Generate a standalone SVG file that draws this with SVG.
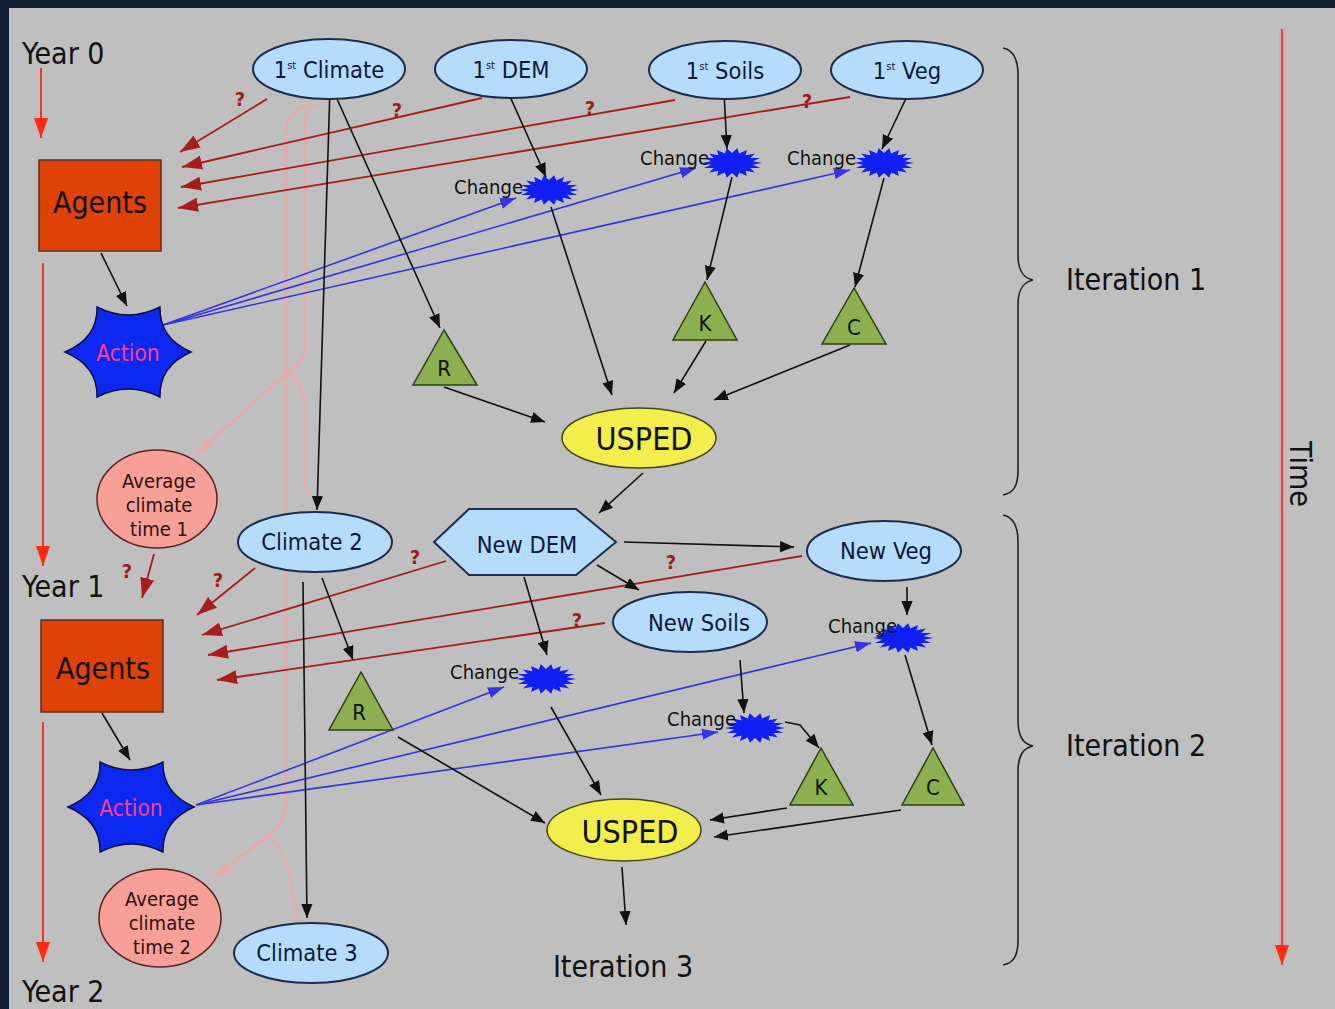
<svg xmlns="http://www.w3.org/2000/svg" width="1335" height="1009" viewBox="0 0 1335 1009">
<style>
text{font-family:"DejaVu Sans Condensed","DejaVu Sans",sans-serif;font-stretch:condensed;}
.ell{fill:#b6dcfb;stroke:#1c2c4c;stroke-width:2}
.elt{font-size:23.5px;fill:#0c1838;text-anchor:middle}
.sup{font-size:11px}
.big{font-size:30px;fill:#111}
.agents{fill:#e04206;stroke:#5a3020;stroke-width:1.5}
.action{fill:#0a28f0;stroke:#101040;stroke-width:1.5}
.actt{font-size:22.5px;fill:#ff3c8c;text-anchor:middle}
.usped{fill:#f2ee4c;stroke:#44441a;stroke-width:1.5}
.uspt{font-size:32px;fill:#111;text-anchor:middle}
.avg{fill:#f8a098;stroke:#5a2222;stroke-width:1.5}
.avgt{font-size:20px;fill:#2a1010;text-anchor:middle}
.tri{fill:#8cb050;stroke:#2a4010;stroke-width:1.5}
.trit{font-size:22px;fill:#111;text-anchor:middle}
.burst{fill:#1020f5}
.cht{font-size:20px;fill:#111;text-anchor:end}
.blk{stroke:#111;stroke-width:1.6;fill:none;marker-end:url(#ab)}
.red{stroke:#a81c1c;stroke-width:1.8;fill:none;marker-end:url(#ar)}
.blu{stroke:#3434e6;stroke-width:1.6;fill:none;marker-end:url(#au)}
.pnk{stroke:#f2a4a4;stroke-width:2.5;fill:none;opacity:0.85}
.q{font-size:20px;font-weight:bold;fill:#a01c1c;text-anchor:middle}
.tl{stroke:#f03a20;stroke-width:2;fill:none;marker-end:url(#at)}
.brace{stroke:#222;stroke-width:1.6;fill:none}
</style>
<defs>
<marker id="ab" viewBox="0 0 10 10" refX="10" refY="5" markerWidth="14" markerHeight="14" markerUnits="userSpaceOnUse" orient="auto"><path d="M0,1 L10,5 L0,9 z" fill="#111"/></marker>
<marker id="ar" viewBox="0 0 10 10" refX="10" refY="5" markerWidth="20" markerHeight="20" markerUnits="userSpaceOnUse" orient="auto"><path d="M0,1.5 L10,5 L0,8.5 z" fill="#a81c1c"/></marker>
<marker id="au" viewBox="0 0 10 10" refX="10" refY="5" markerWidth="16" markerHeight="16" markerUnits="userSpaceOnUse" orient="auto"><path d="M0,1.5 L10,5 L0,8.5 z" fill="#3434e6"/></marker>
<marker id="ap" viewBox="0 0 10 10" refX="10" refY="5" markerWidth="16" markerHeight="16" markerUnits="userSpaceOnUse" orient="auto"><path d="M0,1.5 L10,5 L0,8.5 z" fill="#f2a4a4"/></marker>
<marker id="at" viewBox="0 0 10 10" refX="10" refY="5" markerWidth="20" markerHeight="20" markerUnits="userSpaceOnUse" orient="auto"><path d="M0,1.5 L10,5 L0,8.5 z" fill="#ff2a10"/></marker>
<path id="burst" d="M30,0 L20.7,1.7 L28.2,5.1 L18.2,5 L23,9.6 L13.5,7.7 L15,13 L7.2,9.4 L5.2,14.8 L0,10 L-5.2,14.8 L-7.2,9.4 L-15,13 L-13.5,7.7 L-23,9.6 L-18.2,5 L-28.2,5.1 L-20.7,1.7 L-30,0 L-20.7,-1.7 L-28.2,-5.1 L-18.2,-5 L-23,-9.6 L-13.5,-7.7 L-15,-13 L-7.2,-9.4 L-5.2,-14.8 L0,-10 L5.2,-14.8 L7.2,-9.4 L15,-13 L13.5,-7.7 L23,-9.6 L18.2,-5 L28.2,-5.1 L20.7,-1.7 Z"/>
<path id="star6" d="M-63,0 Q-30,-14 -31,-45 Q0,-29 32,-45 Q31,-14 63,0 Q31,14 32,45 Q0,29 -31,45 Q-30,14 -63,0 Z"/>
</defs>

<rect x="0" y="0" width="1335" height="1009" fill="#0f2035"/>
<rect x="9" y="8" width="1326" height="1001" fill="#bfbfbf"/>

<!-- pink background curves -->
<g id="pink-links">
<path class="pnk" d="M318,104 C306,108 305,116 305,128 L305,345 C305,360 296,366 288,372 L197,453" marker-end="url(#ap)"/>
<path class="pnk" d="M288,372 C300,380 305,395 305,412 L305,480 C305,492 310,496 318,498"/>
<path class="pnk" d="M310,104 C292,110 286,118 286,132 L286,800 C286,818 280,828 268,835 L215,877" marker-end="url(#ap)"/>
<path class="pnk" d="M268,835 C284,850 290,868 292,890 L297,921"/>
</g>

<!-- timeline -->
<g id="timeline">
<path class="tl" d="M41,68 L41,138"/>
<path class="tl" d="M43,263 L43,566"/>
<path class="tl" d="M43,722 L43,962"/>
<text class="big" x="22" y="64">Year 0</text>
<text class="big" x="22" y="597">Year 1</text>
<text class="big" x="22" y="1002">Year 2</text>
<path d="M1282,29 L1282,950" stroke="#eaa0a0" stroke-width="6" opacity="0.6"/>
<path d="M1282,29 L1282,965" stroke="#e04848" stroke-width="2" marker-end="url(#at)"/>
<text x="0" y="0" font-size="30" fill="#111" text-anchor="middle" transform="translate(1290,474) rotate(90)">Time</text>
<path class="brace" d="M1003,48 C1013,50 1018,58 1018,75 L1018,255 C1018,272 1024,278 1033,280 C1024,282 1018,288 1018,305 L1018,470 C1018,487 1013,493 1003,495"/>
<path class="brace" d="M1003,515 C1013,517 1018,525 1018,542 L1018,720 C1018,738 1024,744 1033,746 C1024,748 1018,754 1018,772 L1018,940 C1018,957 1013,963 1003,965"/>
<text class="big" x="1066" y="290" font-size="28">Iteration 1</text>
<text class="big" x="1066" y="756" font-size="28">Iteration 2</text>
<text class="big" x="623" y="977" font-size="28" text-anchor="middle">Iteration 3</text>
</g>

<!-- connectors -->
<g id="connectors">
<!-- red question links iteration 1 -->
<path class="red" d="M267,99 L180,152"/>
<path class="red" d="M482,98 L182,167"/>
<path class="red" d="M675,100 L181,187"/>
<path class="red" d="M850,97 L178,208"/>
<!-- red question links iteration 2 -->
<path class="red" d="M154,554 L142,598"/>
<path class="red" d="M255,568 L197,615"/>
<path class="red" d="M446,561 L202,635"/>
<path class="red" d="M802,556 L208,655"/>
<path class="red" d="M605,623 L217,680"/>
<!-- blue action links -->
<path class="blu" d="M163,325 L516,198"/>
<path class="blu" d="M163,325 L696,168"/>
<path class="blu" d="M163,325 L850,170"/>
<path class="blu" d="M196,805 L504,687"/>
<path class="blu" d="M196,805 L871,643"/>
<path class="blu" d="M196,805 L718,732"/>
<!-- black links iteration 1 -->
<path class="blk" d="M101,253 L127,306"/>
<path class="blk" d="M330,88 L317,510"/>
<path class="blk" d="M333,90 L440,328"/>
<path class="blk" d="M508,92 L546,177"/>
<path class="blk" d="M724,93 L727,149"/>
<path class="blk" d="M910,90 L882,149"/>
<path class="blk" d="M732,177 L707,280"/>
<path class="blk" d="M884,178 L855,287"/>
<path class="blk" d="M551,207 L612,395"/>
<path class="blk" d="M444,387 L545,422"/>
<path class="blk" d="M706,341 L674,393"/>
<path class="blk" d="M850,345 L714,400"/>
<path class="blk" d="M643,473 L599,513"/>
<!-- black links iteration 2 -->
<path class="blk" d="M624,542 L794,547"/>
<path class="blk" d="M597,565 L639,590"/>
<path class="blk" d="M524,577 L547,655"/>
<path class="blk" d="M907,587 L907,615"/>
<path class="blk" d="M740,660 L744,713"/>
<path class="blk" d="M905,655 L932,745"/>
<path class="blk" d="M785,722 L800,725 L819,748"/>
<path class="blk" d="M551,707 L601,795"/>
<path class="blk" d="M398,737 L545,823"/>
<path class="blk" d="M787,808 L710,820"/>
<path class="blk" d="M901,810 L714,837"/>
<path class="blk" d="M622,867 L626,925"/>
<path class="blk" d="M322,578 L353,660"/>
<path class="blk" d="M303,582 L307,918"/>
<path class="blk" d="M102,713 L130,760"/>
<!-- question marks -->
<text class="q" x="240" y="106">?</text>
<text class="q" x="397" y="117">?</text>
<text class="q" x="590" y="115">?</text>
<text class="q" x="807" y="108">?</text>
<text class="q" x="127" y="578">?</text>
<text class="q" x="218" y="587">?</text>
<text class="q" x="415" y="564">?</text>
<text class="q" x="671" y="569">?</text>
<text class="q" x="577" y="627">?</text>
</g>

<!-- nodes iteration 1 -->
<g id="climate1"><ellipse class="ell" cx="329" cy="69" rx="76" ry="30"/><text class="elt" x="329" y="78">1<tspan class="sup" dy="-9">st</tspan><tspan dy="9"> Climate</tspan></text></g>
<g id="dem1"><ellipse class="ell" cx="511" cy="69" rx="76" ry="29"/><text class="elt" x="511" y="78">1<tspan class="sup" dy="-9">st</tspan><tspan dy="9"> DEM</tspan></text></g>
<g id="soils1"><ellipse class="ell" cx="725" cy="70" rx="76" ry="29"/><text class="elt" x="725" y="79">1<tspan class="sup" dy="-9">st</tspan><tspan dy="9"> Soils</tspan></text></g>
<g id="veg1"><ellipse class="ell" cx="907" cy="70" rx="76" ry="29"/><text class="elt" x="907" y="79">1<tspan class="sup" dy="-9">st</tspan><tspan dy="9"> Veg</tspan></text></g>
<g id="agents1"><rect class="agents" x="39" y="160" width="122" height="91"/><text class="big" x="100" y="213" text-anchor="middle">Agents</text></g>
<g id="action1"><use href="#star6" class="action" x="128" y="352"/><text class="actt" x="128" y="361">Action</text></g>
<g id="change-dem1"><use href="#burst" class="burst" x="549" y="190"/><text class="cht" x="523" y="194">Change</text></g>
<g id="change-soils1"><use href="#burst" class="burst" x="732" y="163"/><text class="cht" x="709" y="165">Change</text></g>
<g id="change-veg1"><use href="#burst" class="burst" x="884" y="163"/><text class="cht" x="856" y="165">Change</text></g>
<g id="r1"><polygon class="tri" points="444,330 413,385 477,385"/><text class="trit" x="444" y="376">R</text></g>
<g id="k1"><polygon class="tri" points="705,282 673,340 737,340"/><text class="trit" x="705" y="331">K</text></g>
<g id="c1"><polygon class="tri" points="854,288 822,344 886,344"/><text class="trit" x="854" y="335">C</text></g>
<g id="usped1"><ellipse class="usped" cx="639" cy="438" rx="77" ry="30"/><text class="uspt" x="644" y="450">USPED</text></g>
<g id="avg1"><ellipse class="avg" cx="157" cy="499" rx="60" ry="49"/><text class="avgt" x="159" y="488">Average</text><text class="avgt" x="159" y="512">climate</text><text class="avgt" x="159" y="536">time 1</text></g>

<!-- nodes iteration 2 -->
<g id="climate2"><ellipse class="ell" cx="315" cy="542" rx="77" ry="30"/><text class="elt" x="312" y="550">Climate 2</text></g>
<g id="newdem"><polygon class="ell" points="434,542 469,509 576,509 616,542 576,575 469,575"/><text class="elt" x="527" y="553">New DEM</text></g>
<g id="newveg"><ellipse class="ell" cx="884" cy="551" rx="77" ry="30"/><text class="elt" x="886" y="559">New Veg</text></g>
<g id="newsoils"><ellipse class="ell" cx="690" cy="622" rx="77" ry="30"/><text class="elt" x="699" y="631">New Soils</text></g>
<g id="agents2"><rect class="agents" x="41" y="620" width="122" height="92"/><text class="big" x="103" y="679" text-anchor="middle">Agents</text></g>
<g id="action2"><use href="#star6" class="action" x="131" y="807"/><text class="actt" x="131" y="816">Action</text></g>
<g id="change-dem2"><use href="#burst" class="burst" x="546" y="679"/><text class="cht" x="519" y="679">Change</text></g>
<g id="change-soils2"><use href="#burst" class="burst" x="755" y="728"/><text class="cht" x="736" y="726">Change</text></g>
<g id="change-veg2"><use href="#burst" class="burst" x="903" y="638"/><text class="cht" x="897" y="633">Change</text></g>
<g id="r2"><polygon class="tri" points="361,672 329,730 393,730"/><text class="trit" x="359" y="720">R</text></g>
<g id="k2"><polygon class="tri" points="821,748 790,805 853,805"/><text class="trit" x="821" y="795">K</text></g>
<g id="c2"><polygon class="tri" points="933,748 902,805 964,805"/><text class="trit" x="933" y="795">C</text></g>
<g id="usped2"><ellipse class="usped" cx="624" cy="830" rx="77" ry="31"/><text class="uspt" x="630" y="843">USPED</text></g>
<g id="avg2"><ellipse class="avg" cx="160" cy="918" rx="61" ry="49"/><text class="avgt" x="162" y="906">Average</text><text class="avgt" x="162" y="930">climate</text><text class="avgt" x="162" y="954">time 2</text></g>
<g id="climate3"><ellipse class="ell" cx="311" cy="953" rx="77" ry="30"/><text class="elt" x="307" y="961">Climate 3</text></g>
</svg>
